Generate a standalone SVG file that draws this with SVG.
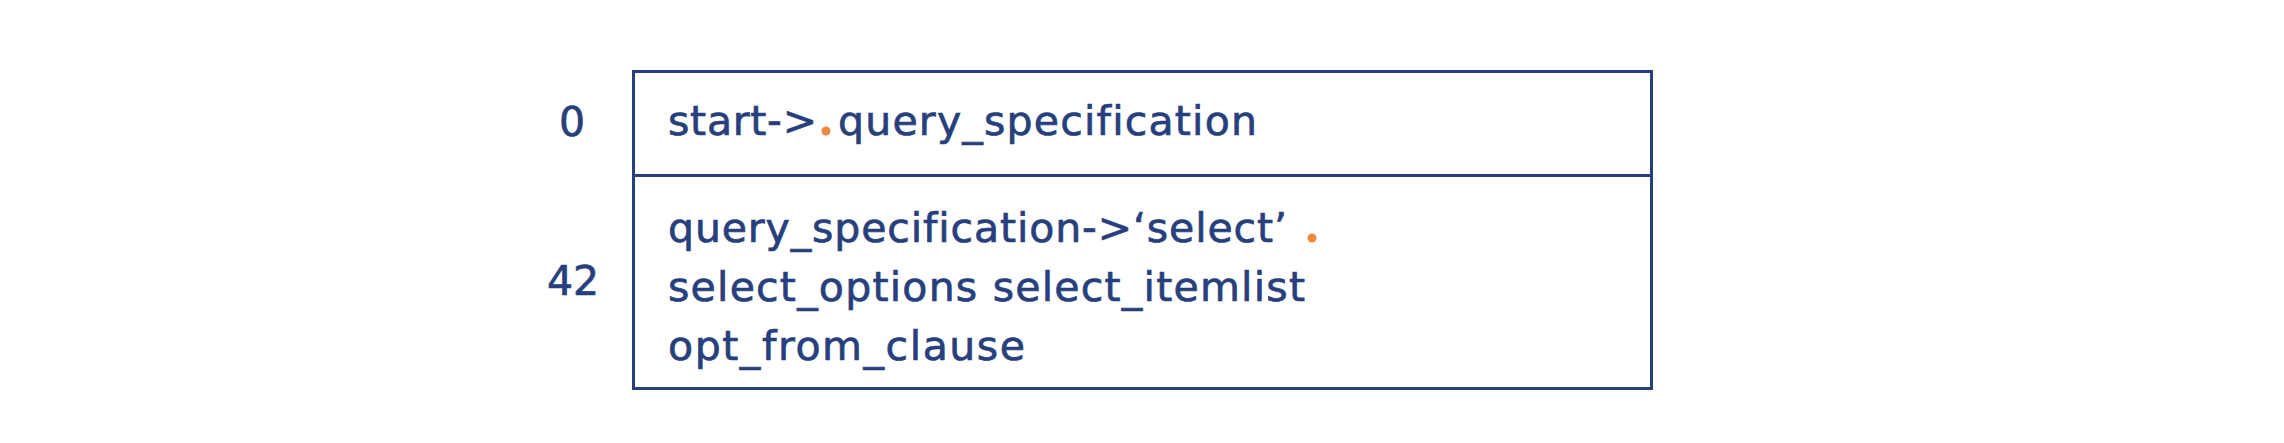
<svg xmlns="http://www.w3.org/2000/svg" width="2284" height="443" viewBox="0 0 2284 443">
<style>
.t,.lb{font-family:"DejaVu Sans","Liberation Sans",sans-serif;font-size:41px;fill:#283f7d;stroke:#283f7d;stroke-width:0.7px;font-variant-ligatures:none}
.lb{text-anchor:middle}
.dot{fill:#f0883e}
.box{fill:#ffffff;stroke:#283f7d;stroke-width:3}
</style>
<rect width="2284" height="443" fill="#ffffff"/>
<g id="row0">
<rect class="box" x="633.5" y="71.5" width="1018" height="104"/>
<text class="lb" x="572" y="136">0</text>
<text class="t" x="668" y="135" textLength="149">start-&gt;</text>
<circle class="dot" cx="826" cy="131" r="4.5"/>
<text class="t" x="838" y="135" textLength="419">query_specification</text>
</g>
<g id="row42">
<rect class="box" x="633.5" y="175.5" width="1018" height="213"/>
<text class="lb" x="573" y="295">42</text>
<text class="t" x="668" y="242" textLength="619">query_specification-&gt;‘select’</text>
<circle class="dot" cx="1312" cy="238" r="4.5"/>
<text class="t" x="668" y="301" textLength="637">select_options select_itemlist</text>
<text class="t" x="668" y="360" textLength="357">opt_from_clause</text>
</g>
<g id="connectors"/>
</svg>
